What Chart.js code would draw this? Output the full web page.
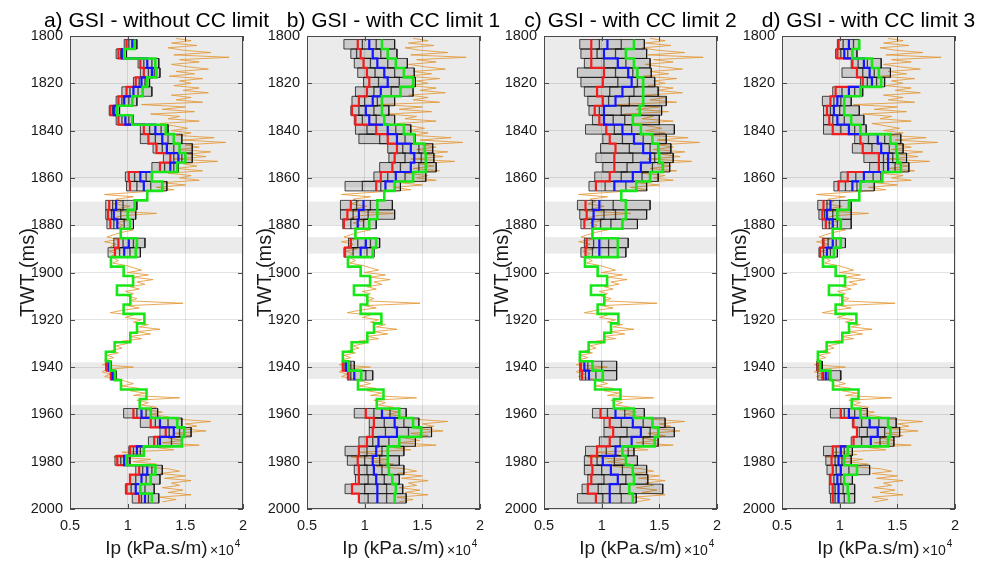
<!DOCTYPE html>
<html>
<head>
<meta charset="utf-8">
<title>GSI realisations</title>
<script src="https://cdn.jsdelivr.net/npm/chart.js@4.4.1/dist/chart.umd.min.js"></script>
<style>
  html, body { margin: 0; padding: 0; background: #fff; overflow: hidden; }
  #wrap { position: relative; width: 982px; height: 566px; }
  #wrap canvas { position: absolute; top: 0; }
</style>
</head>
<body>
<div id="wrap"></div>
<script>
const _ = null;

// TWT edges of the 4 ms blocks (ms)
const blockEdges = [1801.5, 1805.5, 1809.5, 1813.5, 1817.5, 1821.5, 1825.5, 1829.5, 1833.5, 1837.5,
  1841.5, 1845.5, 1849.5, 1853.5, 1857.5, 1861.5, 1865.5, 1869.5, 1873.5, 1877.5,
  1881.5, 1885.5, 1889.5, 1893.5, 1897.5, 1901.5, 1905.5, 1909.5, 1913.5, 1917.5,
  1921.5, 1925.5, 1929.5, 1933.5, 1937.5, 1941.5, 1945.5, 1949.5, 1953.5, 1957.5,
  1961.5, 1965.5, 1969.5, 1973.5, 1977.5, 1981.5, 1985.5, 1989.5, 1993.5, 1997.5];

// shaded intervals (ms)
const bandTop = [1800, 1870, 1885, 1938, 1956];
const bandBottom = [1864, 1880, 1892, 1945, 2000];

// well log Ip (x1e4), sampled every 1 ms from 1801 ms
const logStart = 1801;
const logIp = [
  1.42, 1.55, 1.38, 1.60, 1.35, 1.48, 1.72, 1.40, 1.88, 1.45,
  1.62, 1.38, 1.52, 1.70, 1.42, 1.58, 1.36, 1.65, 1.45, 1.55,
  1.40, 1.62, 1.48, 1.70, 1.38, 1.55, 1.42, 1.65, 1.12, 1.50,
  1.30, 1.58, 1.20, 1.45, 1.35, 1.62, 1.28, 1.40, 1.52, 1.38,
  1.55, 1.42, 1.75, 1.48, 1.85, 1.50, 1.62, 1.45, 1.72, 1.52,
  1.68, 1.40, 1.78, 1.48, 1.60, 1.42, 1.65, 1.35, 1.55, 1.45,
  1.62, 1.30, 1.50, 1.25, 1.40, 1.10, 0.80, 1.05, 0.90, 0.95,
  0.88, 1.02, 0.92, 0.85, 1.25, 0.95, 0.88, 1.00, 0.90, 0.96,
  0.92, 1.05, 0.95, 0.88, 0.82, 0.92, 0.80, 0.90, 0.85, 0.93,
  0.84, 0.90, 0.86, 0.88, 0.92, 0.87, 0.98, 1.05, 1.12, 1.00,
  1.18, 1.05, 1.22, 1.08, 1.15, 1.02, 1.10, 0.98, 1.05, 1.00,
  1.08, 1.02, 1.48, 1.00, 1.10, 0.95, 0.85, 1.05, 0.98, 1.12,
  1.05, 1.18, 1.10, 1.28, 1.08, 1.20, 1.02, 1.12, 0.95, 1.00,
  0.90, 0.95, 0.86, 0.92, 0.82, 0.88, 0.80, 0.85, 0.78, 1.05,
  0.82, 0.78, 0.85, 0.80, 0.92, 0.98, 1.05, 0.95, 1.10, 1.02,
  1.15, 1.05, 1.45, 1.08, 1.18, 1.12, 1.25, 1.15, 1.30, 1.20,
  1.35, 1.42, 1.72, 1.50, 1.60, 1.45, 1.68, 1.40, 1.55, 1.35,
  1.48, 1.30, 1.62, 1.25, 1.40, 0.95, 1.15, 0.88, 1.20, 1.05,
  1.25, 1.10, 1.35, 1.45, 1.28, 1.50, 1.32, 1.55, 1.38, 1.45,
  1.30, 1.48, 1.35, 1.55, 1.28, 1.42, 1.30
];

// ---- panel a ----
const greenA = [1.06, 0.97, 1.24, 1.25, 1.17, 1.13, 1.04, 0.91, 1.04, 1.33, 1.40, 1.45, 1.50, 1.43, 1.21, 1.30,
  1.17, 1.06, 1.00, 1.02, 0.94, 1.08, 1.07,
  0.855, 0.965, 1.047, 0.907, 1.023, 0.965, 1.145, 1.081, 1.023, 0.887, 0.811,
  0.85, 0.89, 0.942, 1.163, 1.105,
  1.20, 1.43, 1.49, 1.47, 1.14, 0.99, 1.24, 1.20, 1.11, 1.21];
const redA = [0.99, 0.92, 1.11, 1.14, 1.07, 0.99, 0.92, 0.85, 0.92, 1.14, 1.18, 1.25, 1.37, 1.28, 1.01, 1.02,
  _, 0.84, 0.83, 0.85, _, 0.92, 0.89,
  _, _, _, _, _, _, _, _, _, _, _,
  0.82, 0.855, _, _, _,
  1.05, 1.20, 1.33, 1.23, 1.02, 0.91, 1.10, 1.02, 0.99, 1.10];
const blueA = [1.04, 0.95, 1.17, 1.21, 1.12, 1.05, 0.97, 0.88, 0.98, 1.24, 1.30, 1.34, 1.44, 1.37, 1.11, 1.14,
  _, 0.90, 0.88, 0.91, _, 1.01, 0.97,
  _, _, _, _, _, _, _, _, _, _, _,
  0.84, 0.87, _, _, _,
  1.12, 1.28, 1.40, 1.28, 1.08, 0.97, 1.17, 1.12, 1.07, 1.15];
const realA1 = [0.97, 0.90, 1.09, 1.11, 1.05, 0.95, 0.90, 0.84, 0.90, 1.11, 1.11, 1.22, 1.31, 1.21, 0.98, 0.99,
  _, 0.81, 0.81, 0.82, _, 0.88, 0.83,
  _, _, _, _, _, _, _, _, _, _, _,
  0.81, 0.85, _, _, _,
  0.965, 1.11, 1.28, 1.18, 1.01, 0.89, 1.07, 1.02, 0.98, 1.04];
const realA2 = [1.01, 0.94, 1.14, 1.18, 1.10, 1.02, 0.95, 0.87, 0.95, 1.19, 1.24, 1.30, 1.40, 1.32, 1.06, 1.08,
  _, 0.87, 0.86, 0.88, _, 0.96, 0.93,
  _, _, _, _, _, _, _, _, _, _, _,
  0.83, 0.86, _, _, _,
  1.08, 1.24, 1.36, 1.26, 1.05, 0.94, 1.13, 1.07, 1.03, 1.12];
const realA3 = [1.05, 0.96, 1.21, 1.23, 1.15, 1.09, 1.01, 0.90, 1.01, 1.29, 1.35, 1.40, 1.47, 1.40, 1.16, 1.20,
  _, 0.96, 0.94, 0.97, _, 1.05, 1.02,
  _, _, _, _, _, _, _, _, _, _, _,
  0.845, 0.88, _, _, _,
  1.16, 1.35, 1.45, 1.38, 1.11, 1.00, 1.21, 1.16, 1.15, 1.18];
const realA4 = [1.08, 0.99, 1.27, 1.28, 1.19, 1.21, 1.08, 0.93, 1.05, 1.35, 1.47, 1.56, 1.56, 1.44, 1.21, 1.34,
  _, 1.08, 1.07, 1.05, _, 1.15, 1.11,
  _, _, _, _, _, _, _, _, _, _, _,
  0.86, 0.90, _, _, _,
  1.26, 1.47, 1.55, 1.47, 1.14, 1.02, 1.30, 1.28, 1.23, 1.27];

// ---- panel b ----
const greenB = [1.15, 1.20, 1.27, 1.34, 1.42, 1.31, 1.15, 1.15, 1.17, 1.34, 1.43, 1.52, 1.53, 1.53, 1.42, 1.26,
  1.17, 1.11, 1.11, 1.04, 0.92, 1.10, 1.07,
  0.855, 0.965, 1.047, 0.907, 1.023, 0.965, 1.145, 1.081, 1.023, 0.887, 0.811,
  0.86, 0.97, 0.942, 1.163, 1.105,
  1.30, 1.42, 1.49, 1.30, 1.20, 1.20, 1.21, 1.24, 1.27, 1.26];
const redB = [0.94, 0.965, 0.99, 1.02, 1.04, 1.02, 0.95, 0.89, 0.92, 1.10, 1.20, 1.28, 1.26, 1.24, 1.14, 1.10,
  _, 0.88, 0.85, 0.82, _, 0.88, 0.83,
  _, _, _, _, _, _, _, _, _, _, _,
  0.81, 0.86, _, _, _,
  1.01, 1.08, 1.07, 1.02, 0.95, 0.94, 0.95, 0.95, 0.89, 0.95];
const blueB = [1.04, 1.07, 1.11, 1.17, 1.20, 1.14, 1.07, 1.01, 1.04, 1.20, 1.28, 1.40, 1.43, 1.40, 1.27, 1.18,
  _, 0.99, 0.95, 0.94, _, 1.01, 0.965,
  _, _, _, _, _, _, _, _, _, _, _,
  0.84, 0.91, _, _, _,
  1.15, 1.26, 1.28, 1.12, 1.10, 1.07, 1.08, 1.10, 1.11, 1.11];
const realB1 = [0.82, 0.88, 0.91, 0.94, 0.99, 0.92, 0.89, 0.88, 0.91, 0.92, 0.95, 1.20, 1.21, 1.13, 1.08, 0.83,
  _, 0.79, 0.79, 0.81, _, 0.86, 0.82,
  _, _, _, _, _, _, _, _, _, _, _,
  0.81, 0.85, _, _, _,
  0.91, 1.04, 1.04, 0.95, 0.83, 0.85, 0.91, 0.92, 0.83, 0.95];
const realB2 = [0.98, 0.93, 1.05, 1.09, 1.12, 1.08, 1.00, 0.95, 0.98, 1.02, 1.13, 1.33, 1.35, 1.31, 1.20, 0.98,
  _, 0.93, 0.90, 0.88, _, 0.94, 0.90,
  _, _, _, _, _, _, _, _, _, _, _,
  0.83, 0.88, _, _, _,
  1.08, 1.17, 1.18, 1.07, 1.02, 1.00, 1.02, 1.03, 1.00, 1.03];
const realB3 = [1.10, 1.14, 1.20, 1.26, 1.30, 1.23, 1.11, 1.08, 1.10, 1.27, 1.35, 1.47, 1.49, 1.47, 1.35, 1.14,
  _, 1.05, 1.03, 0.99, _, 1.05, 1.02,
  _, _, _, _, _, _, _, _, _, _, _,
  0.88, 1.01, _, _, _,
  1.22, 1.34, 1.38, 1.21, 1.15, 1.13, 1.15, 1.17, 1.19, 1.19];
const realB4 = [1.26, 1.28, 1.37, 1.43, 1.44, 1.42, 1.26, 1.21, 1.26, 1.40, 1.44, 1.59, 1.60, 1.62, 1.53, 1.31,
  _, 1.24, 1.26, 1.10, _, 1.13, 1.08,
  _, _, _, _, _, _, _, _, _, _, _,
  0.91, 1.07, _, _, _,
  1.36, 1.47, 1.58, 1.44, 1.34, 1.30, 1.34, 1.30, 1.33, 1.36];

// ---- panel c ----
const greenC = [1.28, 1.21, 1.28, 1.31, 1.36, 1.36, 1.36, 1.33, 1.27, 1.34, 1.44, 1.49, 1.50, 1.53, 1.42, 1.30,
  1.17, 1.21, 1.21, 1.18, 0.92, 1.14, 1.14,
  0.855, 0.965, 1.047, 0.907, 1.023, 0.965, 1.145, 1.081, 1.023, 0.887, 0.811,
  0.92, 1.01, 0.942, 1.163, 1.105,
  1.28, 1.44, 1.49, 1.46, 1.18, 1.21, 1.27, 1.28, 1.24, 1.27];
const redC = [0.91, 0.91, 0.91, 1.02, 1.01, 0.96, 1.01, 0.94, 0.98, 1.04, 1.07, 1.12, 1.11, 1.11, 1.07, 0.95,
  _, 0.86, 0.87, 0.85, _, 0.87, 0.86,
  _, _, _, _, _, _, _, _, _, _, _,
  0.82, 0.83, _, _, _,
  0.99, 1.07, 1.10, 1.07, 0.96, 0.91, 0.92, 0.91, 0.88, 0.95];
const blueC = [1.05, 1.02, 1.14, 1.23, 1.26, 1.18, 1.12, 1.02, 1.02, 1.18, 1.28, 1.36, 1.42, 1.34, 1.27, 1.11,
  _, 0.98, 0.93, 0.92, _, 0.98, 0.98,
  _, _, _, _, _, _, _, _, _, _, _,
  0.85, 0.89, _, _, _,
  1.12, 1.27, 1.34, 1.26, 1.12, 1.01, 1.08, 1.14, 1.07, 1.07];
const realC1 = [0.81, 0.82, 0.85, 0.79, 0.82, 0.85, 0.88, 0.89, 0.92, 0.86, 1.01, 0.99, 0.95, 1.01, 0.94, 0.89,
  _, 0.79, 0.81, 0.82, _, 0.85, 0.82,
  _, _, _, _, _, _, _, _, _, _, _,
  0.81, 0.81, _, _, _,
  0.92, 1.02, 1.02, 0.98, 0.86, 0.85, 0.85, 0.88, 0.83, 0.79];
const realC2 = [0.98, 0.96, 1.02, 1.12, 1.14, 1.07, 1.06, 0.98, 1.10, 1.11, 1.18, 1.24, 1.27, 1.22, 1.17, 1.03,
  _, 0.92, 1.02, 0.99, _, 0.93, 0.92,
  _, _, _, _, _, _, _, _, _, _, _,
  0.88, 0.86, _, _, _,
  1.05, 1.17, 1.22, 1.16, 1.04, 0.96, 1.00, 1.02, 0.97, 1.01];
const realC3 = [1.17, 1.12, 1.21, 1.27, 1.31, 1.28, 1.24, 1.17, 1.20, 1.26, 1.36, 1.42, 1.46, 1.44, 1.35, 1.21,
  _, 1.10, 1.12, 1.08, _, 1.06, 1.06,
  _, _, _, _, _, _, _, _, _, _, _,
  1.00, 0.95, _, _, _,
  1.20, 1.36, 1.42, 1.36, 1.23, 1.11, 1.18, 1.21, 1.16, 1.17];
const realC4 = [1.37, 1.39, 1.42, 1.43, 1.46, 1.49, 1.56, 1.52, 1.50, 1.63, 1.56, 1.60, 1.62, 1.59, 1.49, 1.39,
  _, 1.42, 1.39, 1.31, _, 1.23, 1.21,
  _, _, _, _, _, _, _, _, _, _, _,
  1.13, 1.13, _, _, _,
  1.37, 1.55, 1.63, 1.49, 1.28, 1.31, 1.39, 1.40, 1.53, 1.30];

// ---- panel d ----
const greenD = [1.17, 1.11, 1.28, 1.34, 1.36, 1.18, 1.04, 1.04, 1.10, 1.18, 1.44, 1.49, 1.50, 1.53, 1.37, 1.18,
  1.17, 1.08, 0.98, 1.01, 0.94, 1.01, 0.95,
  0.855, 0.965, 1.047, 0.907, 1.023, 0.965, 1.145, 1.081, 1.023, 0.887, 0.811,
  0.83, 0.92, 0.942, 1.163, 1.105,
  1.18, 1.42, 1.44, 1.42, 1.07, 1.04, 1.15, 1.04, 1.07, 1.08];
const redD = [0.99, 0.98, 1.11, 1.15, 1.20, 0.965, 0.92, 0.89, 0.91, 0.94, 1.18, 1.20, 1.34, 1.34, 1.07, 0.99,
  _, 0.86, 0.85, 0.88, _, 0.86, 0.83,
  _, _, _, _, _, _, _, _, _, _, _,
  0.81, 0.85, _, _, _,
  1.01, 1.12, 1.15, 1.12, 0.94, 0.93, 0.94, 0.92, 0.94, 0.94];
const blueD = [1.08, 1.04, 1.21, 1.26, 1.28, 1.08, 0.98, 0.95, 0.98, 1.08, 1.33, 1.36, 1.42, 1.42, 1.21, 1.11,
  _, 0.92, 0.89, 0.94, _, 0.94, 0.89,
  _, _, _, _, _, _, _, _, _, _, _,
  0.83, 0.88, _, _, _,
  1.08, 1.26, 1.33, 1.27, 1.01, 0.99, 1.01, 0.98, 0.99, 0.99];
const realD1 = [0.98, 0.965, 1.10, 1.02, 1.18, 0.94, 0.85, 0.86, 0.86, 0.86, 1.13, 1.11, 1.21, 1.26, 1.01, 0.95,
  _, 0.81, 0.82, 0.85, _, 0.85, 0.82,
  _, _, _, _, _, _, _, _, _, _, _,
  0.80, 0.81, _, _, _,
  0.92, 1.11, 1.17, 1.10, 0.86, 0.88, 0.89, 0.91, 0.91, 0.92];
const realD2 = [1.03, 1.01, 1.16, 1.20, 1.24, 1.02, 0.95, 0.92, 0.94, 1.01, 1.25, 1.28, 1.38, 1.38, 1.14, 1.05,
  _, 0.89, 0.87, 0.91, _, 0.90, 0.86,
  _, _, _, _, _, _, _, _, _, _, _,
  0.82, 0.86, _, _, _,
  1.04, 1.19, 1.24, 1.19, 0.97, 0.96, 0.97, 0.95, 0.96, 0.96];
const realD3 = [1.12, 1.07, 1.24, 1.30, 1.32, 1.13, 1.01, 1.00, 1.04, 1.13, 1.39, 1.43, 1.46, 1.48, 1.29, 1.15,
  _, 1.00, 0.94, 0.98, _, 0.97, 0.92,
  _, _, _, _, _, _, _, _, _, _, _,
  0.84, 0.90, _, _, _,
  1.13, 1.34, 1.39, 1.35, 1.04, 1.02, 1.08, 1.01, 1.03, 1.04];
const realD4 = [1.17, 1.15, 1.36, 1.44, 1.39, 1.20, 1.10, 1.17, 1.21, 1.23, 1.53, 1.55, 1.58, 1.60, 1.36, 1.30,
  _, 1.10, 1.10, 1.10, _, 1.05, 0.98,
  _, _, _, _, _, _, _, _, _, _, _,
  0.85, 1.01, _, _, _,
  1.24, 1.49, 1.52, 1.47, 1.11, 1.10, 1.26, 1.11, 1.13, 1.13];

const panelTitles = ['a) GSI - without CC limit', 'b) GSI - with CC limit 1',
  'c) GSI - with CC limit 2', 'd) GSI - with CC limit 3'];

const panels = [
  { green: greenA, red: redA, blue: blueA, black: [realA1, realA2, realA3, realA4] },
  { green: greenB, red: redB, blue: blueB, black: [realB1, realB2, realB3, realB4] },
  { green: greenC, red: redC, blue: blueC, black: [realC1, realC2, realC3, realC4] },
  { green: greenD, red: redD, blue: blueD, black: [realD1, realD2, realD3, realD4] }
];

// layout
const plotLefts = [70, 307, 544, 782];
const AXIS_W = 70, PLOT_W = 173, CANVAS_W = 300, CANVAS_H = 566, PLOT_TOP = 36, XAXIS_H = 57;
const FONT = '"Liberation Sans", Arial, Helvetica, sans-serif';
Chart.defaults.font.family = FONT;
Chart.defaults.color = '#1a1a1a';

// turn block values into a stair line, breaking where a block is empty
function stairs(vals) {
  const pts = [];
  vals.forEach((v, k) => {
    if (v === null) {
      pts.push({ x: null, y: blockEdges[k] });
    } else {
      pts.push({ x: v, y: blockEdges[k] }, { x: v, y: blockEdges[k + 1] });
    }
  });
  return pts;
}

// closed box per block between the lowest and highest realisation
function boxes(lo, hi) {
  const pts = [];
  lo.forEach((v, k) => {
    if (v === null) return;
    const t = blockEdges[k], b = blockEdges[k + 1];
    pts.push({ x: v, y: t }, { x: hi[k], y: t }, { x: hi[k], y: b }, { x: v, y: b }, { x: v, y: t });
    pts.push({ x: null, y: b });
  });
  return pts;
}

const bandsPlugin = {
  id: 'bands',
  beforeDraw(chart) {
    const { ctx, chartArea: a, scales: { y } } = chart;
    ctx.save();
    ctx.fillStyle = '#ebebeb';
    bandTop.forEach((t, i) => {
      const y0 = y.getPixelForValue(t);
      const y1 = y.getPixelForValue(bandBottom[i]);
      ctx.fillRect(a.left, y0, a.right - a.left, y1 - y0);
    });
    ctx.restore();
  }
};

const decoPlugin = {
  id: 'deco',
  afterDraw(chart, args, opts) {
    const { ctx, chartArea: a, scales: { x, y } } = chart;
    ctx.save();
    // axes box and inner ticks
    ctx.strokeStyle = '#4a4a4a';
    ctx.lineWidth = 1;
    ctx.strokeRect(Math.round(a.left) + 0.5, Math.round(a.top) + 0.5,
      Math.round(a.right - a.left) - 1, Math.round(a.bottom - a.top) - 1);
    ctx.beginPath();
    y.ticks.forEach(t => {
      const py = Math.round(y.getPixelForValue(t.value)) + 0.5;
      ctx.moveTo(a.left, py); ctx.lineTo(a.left + 5, py);
      ctx.moveTo(a.right - 5, py); ctx.lineTo(a.right, py);
    });
    x.ticks.forEach(t => {
      const px = Math.round(x.getPixelForValue(t.value)) + 0.5;
      ctx.moveTo(px, a.bottom); ctx.lineTo(px, a.bottom - 5);
      ctx.moveTo(px, a.top); ctx.lineTo(px, a.top + 5);
    });
    ctx.stroke();

    // panel title
    ctx.fillStyle = '#000';
    ctx.font = '21px ' + FONT;
    ctx.textAlign = 'center';
    ctx.textBaseline = 'alphabetic';
    ctx.fillText(opts.title, (a.left + a.right) / 2, 27);

    // x10^4 multiplier
    ctx.textAlign = 'left';
    ctx.fillStyle = '#1a1a1a';
    ctx.font = '14px ' + FONT;
    const mx = a.right - 33;
    ctx.fillText('\u00d710', mx, 555);
    const w = ctx.measureText('\u00d710').width;
    ctx.font = '10px ' + FONT;
    ctx.fillText('4', mx + w + 1, 547);
    ctx.restore();
  }
};

const wrap = document.getElementById('wrap');

panels.forEach((p, i) => {
  const canvas = document.createElement('canvas');
  canvas.width = CANVAS_W;
  canvas.height = CANVAS_H;
  canvas.style.left = (plotLefts[i] - AXIS_W) + 'px';
  wrap.appendChild(canvas);

  const logPoints = logIp.map((v, k) => ({ x: v, y: logStart + k }));
  const [r1, r2, r3, r4] = p.black;
  const ink = 'rgba(15,15,15,0.75)';

  const datasets = [
    { data: stairs(p.green), borderColor: '#19e619', borderWidth: 2.6 },
    { data: stairs(p.blue), borderColor: '#1414ff', borderWidth: 2.2 },
    { data: stairs(p.red), borderColor: '#f01e1e', borderWidth: 2.2 },
    { data: boxes(r1, r4), borderColor: ink, borderWidth: 1, fill: 'shape', backgroundColor: 'rgba(40,40,40,0.16)' },
    { data: stairs(r2), borderColor: ink, borderWidth: 1.3 },
    { data: stairs(r3), borderColor: ink, borderWidth: 1.3 },
    { data: logPoints, borderColor: 'rgba(226,148,45,0.8)', borderWidth: 1 }
  ];

  new Chart(canvas, {
    type: 'line',
    data: { datasets },
    options: {
      responsive: false,
      animation: false,
      devicePixelRatio: 1,
      layout: { padding: { left: 0, right: CANVAS_W - AXIS_W - PLOT_W, top: PLOT_TOP, bottom: 0 } },
      elements: {
        point: { radius: 0, hoverRadius: 0 },
        line: { tension: 0, borderJoinStyle: 'miter', fill: false }
      },
      plugins: {
        legend: { display: false },
        tooltip: { enabled: false },
        deco: { title: panelTitles[i] }
      },
      scales: {
        x: {
          type: 'linear',
          min: 0.5,
          max: 2,
          afterFit: s => { s.height = XAXIS_H; },
          grid: { color: 'rgba(0,0,0,0.11)', drawTicks: false },
          border: { display: false },
          ticks: { stepSize: 0.5, padding: 8, font: { size: 14.5 }, color: '#1a1a1a', callback: v => String(v) },
          title: { display: true, text: 'Ip (kPa.s/m)', font: { size: 19 }, color: '#1a1a1a', padding: { top: 0, bottom: 6 } }
        },
        y: {
          type: 'linear',
          reverse: true,
          min: 1800,
          max: 2000,
          afterFit: s => { s.width = AXIS_W; },
          grid: { color: 'rgba(0,0,0,0.11)', drawTicks: false },
          border: { display: false },
          ticks: { stepSize: 20, padding: 7, autoSkip: false, font: { size: 14.5 }, color: '#1a1a1a', callback: v => String(v) },
          title: { display: true, text: 'TWT (ms)', font: { size: 20 }, color: '#1a1a1a', padding: { top: 16, bottom: 0 } }
        }
      }
    },
    plugins: [bandsPlugin, decoPlugin]
  });
});
</script>
</body>
</html>
